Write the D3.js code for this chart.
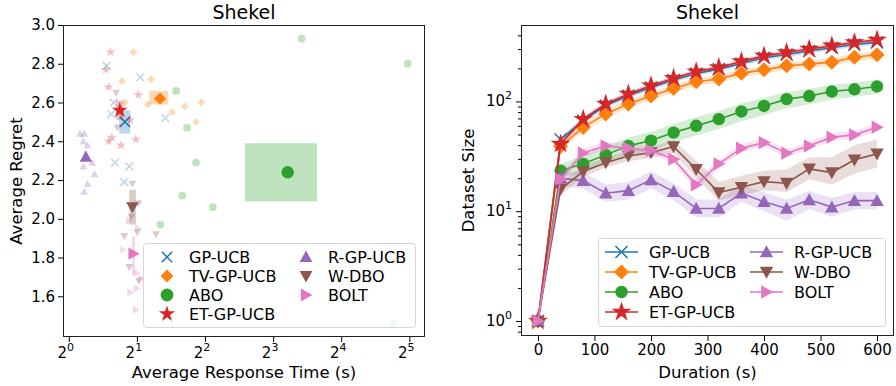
<!DOCTYPE html>
<html>
<head>
<meta charset="utf-8">
<script src="https://cdn.jsdelivr.net/npm/d3@7"></script>
<style>
  body { margin: 0; background: #fff; }
  svg { font-family: "DejaVu Sans", sans-serif; }
</style>
</head>
<body>
<svg id="chart" width="896" height="386"></svg>
<script>
// ---- methods ----
const methods = ["GP-UCB", "TV-GP-UCB", "ABO", "ET-GP-UCB", "R-GP-UCB", "W-DBO", "BOLT"];
const colors  = ["#1f77b4", "#ff7f0e", "#2ca02c", "#d62728", "#9467bd", "#8c564b", "#e377c2"];
const markers = ["x", "D", "o", "*", "^", "v", ">"];

// ---- left panel: individual runs [response time (s), regret] ----
const runsGP   = [[1.47,2.79],[2.07,2.73],[1.58,2.60],[1.54,2.54],[2.67,2.52],[1.60,2.29],[1.85,2.27],[1.76,2.19]];
const runsTV   = [[1.93,2.86],[1.72,2.71],[2.31,2.72],[1.77,2.60],[2.24,2.59],[2.86,2.55],[3.26,2.58],[3.85,2.60],[3.65,2.50]];
const runsABO  = [[10.7,2.93],[31.5,2.80],[2.98,2.66],[3.33,2.47],[3.65,2.29],[3.17,2.12],[4.33,2.06],[2.54,1.97],[27.2,1.46]];
const runsET   = [[1.53,2.86],[1.46,2.77],[1.50,2.68],[2.03,2.64],[1.87,2.51],[1.55,2.42],[1.50,2.40],[1.70,2.38],[1.98,2.41]];
const runsR    = [[1.12,2.44],[1.17,2.44],[1.16,2.40],[1.21,2.38],[1.16,2.27],[1.27,2.29],[1.30,2.23],[1.21,2.18],[1.17,2.14]];
const runsW    = [[1.62,2.65],[1.64,2.47],[1.91,2.18],[2.03,2.08],[1.89,2.01],[2.01,1.93],[1.76,1.91],[2.43,1.92],[1.85,1.75],[2.04,1.68]];
const runsBOLT = [[1.85,1.99],[2.03,1.95],[1.74,1.84],[2.00,1.72],[2.09,1.69],[1.87,1.62],[2.00,1.64],[1.98,1.53]];
const runs = [runsGP, runsTV, runsABO, runsET, runsR, runsW, runsBOLT];

// mean per method and its spread box
const meanTime    = [1.77, 2.53, 9.28, 1.68, 1.19, 1.91, 1.93];
const meanRegret  = [2.50, 2.62, 2.24, 2.56, 2.32, 2.06, 1.82];
const boxTimeLo   = [1.67, 2.27, 6.00, 1.62, 1.17, 1.85, 1.905];
const boxTimeHi   = [1.87, 2.75, 12.5, 1.74, 1.20, 1.98, 1.96];
const boxRegretLo = [2.44, 2.59, 2.09, 2.51, 2.30, 1.97, 1.71];
const boxRegretHi = [2.56, 2.66, 2.39, 2.61, 2.35, 2.15, 1.91];

const regretTicks = [1.6, 1.8, 2.0, 2.2, 2.4, 2.6, 2.8, 3.0];
const timeExpTicks = [0, 1, 2, 3, 4, 5];

// ---- right panel: dataset size over time ----
const durations = [0, 40, 80, 120, 160, 200, 240, 280, 320, 360, 400, 440, 480, 520, 560, 600];
const sizeGP   = [1, 45, 67, 92, 113, 134, 157, 180, 197, 222, 250, 268, 288, 308, 330, 345];
const sizeTV   = [1, 39, 58, 77, 95, 112, 131, 151, 160, 181, 194, 211, 219, 228, 253, 266];
const sizeABO  = [1, 23.4, 27, 32.6, 39.4, 44, 52, 60, 69, 81, 91, 105, 112, 123, 129, 137];
const sizeET   = [1, 41, 69, 95, 117, 139, 163, 187, 204, 231, 260, 279, 300, 321, 344, 364];
const sizeR    = [1, 20, 19, 14.6, 15.4, 19.3, 15.1, 10.6, 10.6, 14.6, 12.2, 10.6, 12.7, 10.9, 12.5, 12.5];
const sizeW    = [1, 15.9, 23, 27.7, 31.9, 34.2, 38.8, 24.1, 14.8, 16.5, 18.6, 18, 24.3, 22.5, 29.4, 33.3];
const sizeBOLT = [1, 19.6, 34, 39.4, 37.5, 35.7, 29.8, 17.4, 27, 37.5, 42.2, 33.8, 39.4, 47.3, 49.6, 58.3];

const lowGP   = [1, 42, 63, 87, 107, 127, 149, 171, 187, 211, 237, 254, 273, 292, 313, 327];
const highGP  = [1, 48, 71, 97, 119, 141, 165, 189, 207, 233, 263, 282, 303, 324, 347, 363];
const lowTV   = [0.9, 36, 53, 70, 87, 103, 120, 139, 147, 166, 178, 194, 201, 209, 233, 245];
const highTV  = [1.05, 43, 63, 84, 103, 121, 142, 163, 173, 196, 210, 228, 237, 247, 273, 287];
const lowABO  = [1, 20, 22.5, 27, 32.5, 36, 42.5, 49, 56, 66, 75, 87, 94, 104, 110, 118];
const highABO = [1, 27, 32, 39, 47, 53, 62, 72, 82, 96, 108, 122, 130, 142, 148, 158];
const lowET   = [1, 38, 65, 90, 111, 132, 155, 178, 194, 219, 247, 265, 285, 305, 327, 346];
const highET  = [1, 44, 73, 100, 123, 146, 171, 196, 214, 243, 273, 293, 315, 337, 361, 382];
const lowR    = [1, 17, 16, 12.2, 12.8, 16.2, 12.6, 8.8, 8.8, 12.2, 10, 8.2, 10.5, 8.9, 10.4, 10.4];
const highR   = [1, 23, 22.5, 17.5, 18.5, 23, 18, 12.8, 12.8, 17.5, 14.8, 12.8, 15.3, 13.2, 15, 15];
const lowW    = [1, 14, 20.5, 25, 28.5, 30.5, 34, 20, 12.5, 14, 15.5, 15, 19.5, 17.5, 22, 25];
const highW   = [1, 18, 26, 31, 35.5, 38, 44, 29, 18.5, 21, 23.5, 24, 31, 31, 40, 45];
const lowBOLT = [1, 18, 31.5, 36.5, 34.5, 33, 27.5, 15.5, 24.5, 34.5, 39, 31, 36.5, 43.5, 45.5, 53.5];
const highBOLT= [1, 21.5, 37, 43, 41, 39, 32.5, 19.5, 29.5, 41, 46, 37, 43, 51.5, 54, 63.5];

const sizes = [sizeGP, sizeTV, sizeABO, sizeET, sizeR, sizeW, sizeBOLT];
const lows  = [lowGP, lowTV, lowABO, lowET, lowR, lowW, lowBOLT];
const highs = [highGP, highTV, highABO, highET, highR, highW, highBOLT];
const durationTicks = [0, 100, 200, 300, 400, 500, 600];

// ---- marker shapes (path centred at 0,0, half-size s) ----
function markerPath(type, s) {
  switch (type) {
    case "x": return `M${-s},${-s}L${s},${s}M${-s},${s}L${s},${-s}`;
    case "D": return `M0,${-s}L${s},0L0,${s}L${-s},0Z`;
    case "o": return d3.symbol(d3.symbolCircle, Math.PI * s * s)();
    case "*": return d3.symbol(d3.symbolStar, s * s * 2.0)();
    case "^": return `M0,${-s}L${s},${s * 0.8}L${-s},${s * 0.8}Z`;
    case "v": return `M0,${s}L${s},${-s * 0.8}L${-s},${-s * 0.8}Z`;
    case ">": return `M${s},0L${-s * 0.8},${-s}L${-s * 0.8},${s}Z`;
  }
}
function drawMarker(g, type, color, s, x, y, opacity) {
  const p = g.append("path")
    .attr("d", markerPath(type, s))
    .attr("transform", `translate(${x},${y})`)
    .attr("opacity", opacity);
  if (type === "x") p.attr("fill", "none").attr("stroke", color).attr("stroke-width", 1.5);
  else p.attr("fill", color).attr("stroke", "none");
  return p;
}

const svg = d3.select("#chart");
const tickFont = 15, labelFont = 16.5, titleFont = 19, legendFont = 16;

// =================== LEFT PANEL ===================
const L = { x0: 63, x1: 425, y0: 25, y1: 337 };
const xL = d3.scaleLog().base(2).domain([Math.pow(2, -0.085), Math.pow(2, 5.23)]).range([L.x0, L.x1]);
const yL = d3.scaleLinear().domain([1.39, 3.0]).range([L.y1, L.y0]);

const gL = svg.append("g");
gL.append("rect").attr("x", L.x0).attr("y", L.y0).attr("width", L.x1 - L.x0).attr("height", L.y1 - L.y0).attr("fill", "#fff");

const dataL = gL.append("g");
methods.forEach((m, i) => {
  runs[i].forEach(d => drawMarker(dataL, markers[i], colors[i], 3.9, xL(d[0]), yL(d[1]), 0.3));
  dataL.append("rect")
    .attr("x", xL(boxTimeLo[i])).attr("width", Math.max(1, xL(boxTimeHi[i]) - xL(boxTimeLo[i])))
    .attr("y", yL(boxRegretHi[i])).attr("height", yL(boxRegretLo[i]) - yL(boxRegretHi[i]))
    .attr("fill", colors[i]).attr("opacity", 0.3);
  drawMarker(dataL, markers[i], colors[i], markers[i] === "x" ? 5 : 6.2, xL(meanTime[i]), yL(meanRegret[i]), 1);
});

// left axes
const axLy = d3.axisLeft(yL).tickValues(regretTicks).tickFormat(d3.format(".1f")).tickSize(5).tickPadding(3);
gL.append("g").attr("transform", `translate(${L.x0},0)`).call(axLy);
const axLx = d3.axisBottom(xL).tickValues(timeExpTicks.map(e => Math.pow(2, e))).tickFormat("").tickSize(5);
gL.append("g").attr("transform", `translate(0,${L.y1})`).call(axLx);
timeExpTicks.forEach(e => {
  const t = gL.append("text").attr("x", xL(Math.pow(2, e)) - 3).attr("y", L.y1 + 21)
    .attr("text-anchor", "middle").attr("font-size", tickFont).attr("fill", "#000");
  t.append("tspan").text("2");
  t.append("tspan").attr("dy", -7).attr("font-size", 11).text(e);
});

// left legend
const legL = gL.append("g");
legL.append("rect").attr("x", 143.5).attr("y", 243.5).attr("width", 272).attr("height", 84).attr("rx", 3)
  .attr("fill", "#fff").attr("fill-opacity", 0.8).attr("stroke", "#d6d6d6");
methods.forEach((m, i) => {
  const col = i < 4 ? 0 : 1, row = i < 4 ? i : i - 4;
  const mx = col === 0 ? 167 : 306, ty = 257 + row * 19;
  drawMarker(legL, markers[i], colors[i], markers[i] === "x" ? 5.2 : 6.4, mx, ty, 1);
  legL.append("text").attr("x", mx + 22).attr("y", ty + 6).attr("font-size", legendFont).text(m);
});

// =================== RIGHT PANEL ===================
const R = { x0: 521, x1: 894, y0: 25, y1: 336 };
const xR = d3.scaleLinear().domain([-30, 630]).range([R.x0, R.x1]);
const yR = d3.scaleLog().domain([0.73, 497]).range([R.y1, R.y0]);

const gR = svg.append("g");
const dataR = gR.append("g");
const area = d3.area().x((d, j) => xR(durations[j])).y0(d => yR(d[0])).y1(d => yR(d[1]));
const line = d3.line().x((d, j) => xR(durations[j])).y(d => yR(d));
const markerSizeR = { x: 6, D: 7.5, o: 6.2, "*": 7.8, "^": 6.7, v: 6.7, ">": 6.7 };
methods.forEach((m, i) => {
  dataR.append("path").datum(lows[i].map((lo, j) => [lo, highs[i][j]]))
    .attr("d", area).attr("fill", colors[i]).attr("opacity", 0.2);
  dataR.append("path").datum(sizes[i]).attr("d", line)
    .attr("fill", "none").attr("stroke", colors[i]).attr("stroke-width", 1.6);
  sizes[i].forEach((v, j) => drawMarker(dataR, markers[i], colors[i], markerSizeR[markers[i]], xR(durations[j]), yR(v), 1));
});

// right axes
const majorY = [1, 10, 100];
const minorY = [0.8, 0.9, 2, 3, 4, 5, 6, 7, 8, 9, 20, 30, 40, 50, 60, 70, 80, 90, 200, 300, 400];
gR.append("g").attr("transform", `translate(${R.x0},0)`)
  .call(d3.axisLeft(yR).tickValues(minorY).tickFormat("").tickSize(3));
gR.append("g").attr("transform", `translate(${R.x0},0)`)
  .call(d3.axisLeft(yR).tickValues(majorY).tickFormat("").tickSize(5));
majorY.forEach((v, k) => {
  const t = gR.append("text").attr("x", R.x0 - 9).attr("y", yR(v) + 5)
    .attr("text-anchor", "end").attr("font-size", tickFont);
  t.append("tspan").text("10");
  t.append("tspan").attr("dy", -7).attr("font-size", 11).text(k);
});
gR.append("g").attr("transform", `translate(0,${R.y1})`)
  .call(d3.axisBottom(xR).tickValues(durationTicks).tickFormat(d3.format("d")).tickSize(5).tickPadding(3));

// right legend
const legR = gR.append("g");
legR.append("rect").attr("x", 598.5).attr("y", 238.5).attr("width", 287).attr("height", 88).attr("rx", 3)
  .attr("fill", "#fff").attr("fill-opacity", 0.8).attr("stroke", "#d6d6d6");
methods.forEach((m, i) => {
  const col = i < 4 ? 0 : 1, row = i < 4 ? i : i - 4;
  const hx = col === 0 ? 605 : 750, ty = 252 + row * 20;
  legR.append("line").attr("x1", hx).attr("x2", hx + 33).attr("y1", ty).attr("y2", ty)
    .attr("stroke", colors[i]).attr("stroke-width", 1.6);
  drawMarker(legR, markers[i], colors[i], markerSizeR[markers[i]], hx + 16.5, ty, 1);
  legR.append("text").attr("x", hx + 44).attr("y", ty + 6).attr("font-size", legendFont).text(m);
});

// ---- shared axis styling, frames, titles, labels ----
svg.selectAll(".tick text").attr("font-size", tickFont).attr("fill", "#000").attr("font-family", "DejaVu Sans");
svg.selectAll(".tick line").attr("stroke", "#000");
svg.selectAll(".domain").remove();
[L, R].forEach(P => {
  svg.append("rect").attr("x", P.x0 + 0.5).attr("y", P.y0 + 0.5)
    .attr("width", P.x1 - P.x0 - 1).attr("height", P.y1 - P.y0 - 1)
    .attr("fill", "none").attr("stroke", "#222").attr("stroke-width", 1);
});
svg.append("text").attr("x", (L.x0 + L.x1) / 2).attr("y", 19).attr("text-anchor", "middle").attr("font-size", titleFont).text("Shekel");
svg.append("text").attr("x", (R.x0 + R.x1) / 2).attr("y", 19).attr("text-anchor", "middle").attr("font-size", titleFont).text("Shekel");
svg.append("text").attr("transform", `translate(22,${(L.y0 + L.y1) / 2}) rotate(-90)`).attr("text-anchor", "middle").attr("font-size", labelFont).text("Average Regret");
svg.append("text").attr("transform", `translate(474,${(R.y0 + R.y1) / 2}) rotate(-90)`).attr("text-anchor", "middle").attr("font-size", labelFont).text("Dataset Size");
svg.append("text").attr("x", (L.x0 + L.x1) / 2).attr("y", 378).attr("text-anchor", "middle").attr("font-size", labelFont).text("Average Response Time (s)");
svg.append("text").attr("x", (R.x0 + R.x1) / 2).attr("y", 378).attr("text-anchor", "middle").attr("font-size", labelFont).text("Duration (s)");
</script>
</body>
</html>
